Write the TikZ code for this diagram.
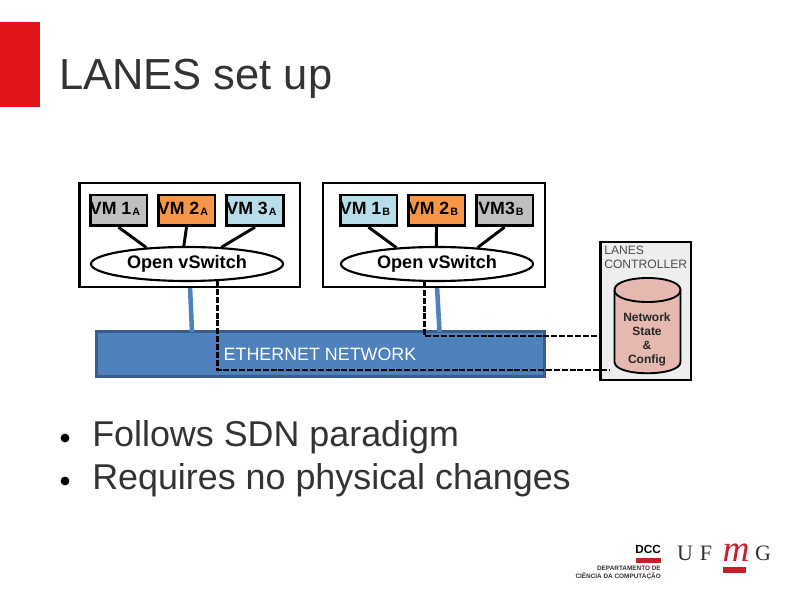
\documentclass[tikz,border=0pt]{standalone}
\usepackage{fontspec}
\setmainfont{Liberation Sans}
\newfontfamily\serifl{Liberation Serif}
\usetikzlibrary{calc,shapes.geometric}
\definecolor{lred}{HTML}{E0161B}
\definecolor{vmgray}{HTML}{BFBFBF}
\definecolor{vmorange}{HTML}{F79646}
\definecolor{vmblue}{HTML}{B7DDE8}
\definecolor{netblue}{HTML}{4F81BD}
\definecolor{netedge}{HTML}{385D8A}
\definecolor{ctlfill}{HTML}{EEEEEE}
\definecolor{dbfill}{HTML}{E6B9B0}
\definecolor{ink}{HTML}{333333}
\definecolor{logored}{HTML}{C8202A}
\newcommand{\vmlab}[2]{\makebox[0pt]{\raisebox{2.9pt}{\fontsize{13.3pt}{15pt}\selectfont\bfseries #1\raisebox{-0.3pt}{\fontsize{8pt}{8pt}\selectfont\kern0.8pt #2}}\hspace{5.2pt}}}
\tikzset{
  hostbox/.style={draw=black,line width=2pt,fill=white,inner sep=0pt,minimum height=78pt},
  vmbox/.style={draw=black,line width=2pt,inner sep=0pt,minimum width=42.5pt,minimum height=23pt},
  ovs/.style={ellipse,draw=black,line width=1.6pt,fill=white,inner sep=0pt,minimum width=144pt,minimum height=25.5pt,font=\fontsize{13.6pt}{15pt}\selectfont\bfseries},
  vmlink/.style={draw=black,line width=2.2pt},
  bluelink/.style={draw=netblue,line width=3.4pt},
  ctl/.style={draw=black,line width=2.2pt,dash pattern=on 4.5pt off 1.4pt},
  dbtxt/.style={font=\fontsize{9pt}{10pt}\selectfont\bfseries,text=black!85,inner sep=0pt},
  ctltxt/.style={font=\fontsize{9.1pt}{10pt}\selectfont,text=black!70,inner sep=0pt,anchor=base west},
  bigtxt/.style={font=\fontsize{26.9pt}{30pt}\selectfont,text=ink,inner sep=0pt,anchor=base west},
  bullet/.style={circle,fill=black,inner sep=0pt,minimum size=6.6pt},
  logosmall/.style={font=\fontsize{4.8pt}{5pt}\selectfont\bfseries,text=black!80,inner sep=0pt,anchor=base east},
  logoserif/.style={font=\serifl\fontsize{16.5pt}{18pt}\selectfont,text=black!80,inner sep=0pt,anchor=base}
}
\begin{document}
\begin{tikzpicture}[x=0.75pt,y=-0.75pt]
\useasboundingbox (0,0) rectangle (794,595);
\fill[white] (0,0) rectangle (794,595);
% title
\node[fill=lred,inner sep=0pt,minimum width=30pt,minimum height=63.75pt] (redbar) at (20,64.5) {};
\node[font=\fontsize{32.6pt}{36pt}\selectfont,text=ink,inner sep=0pt,anchor=base west] (title) at (59,90) {LANES set up};
% network
\node[draw=netedge,line width=2.2pt,fill=netblue,inner sep=0pt,minimum width=336pt,minimum height=34pt] (enet) at (320.5,354) {};
\node[text=white,inner sep=0pt,font=\fontsize{13.4pt}{15pt}\selectfont] (enetlab) at (320,354) {ETHERNET NETWORK};
% blue links
\coordinate (la) at (190,286);
\coordinate (lb) at (437,286);
\draw[bluelink] (la) -- (192,332);
\draw[bluelink] (lb) -- (439.5,332);
% hosts
\node[hostbox,minimum width=165.5pt] (hosta) at (189.5,235) {};
\node[hostbox,minimum width=166.5pt] (hostb) at (434,235) {};
% VMs A
\node[vmbox,fill=vmgray] (a1) at (118.5,210.5) {\vmlab{VM 1}{A}};
\node[vmbox,fill=vmorange] (a2) at (186.5,210.5) {\vmlab{VM 2}{A}};
\node[vmbox,fill=vmblue] (a3) at (255,210.5) {\vmlab{VM 3}{A}};
\node[ovs] (ova) at (187,264) {Open vSwitch};
% VMs B
\node[vmbox,fill=vmblue] (b1) at (368.5,210.5) {\vmlab{VM 1}{B}};
\node[vmbox,fill=vmorange] (b2) at (436.5,210.5) {\vmlab{VM 2}{B}};
\node[vmbox,fill=vmgray] (b3) at (504.5,210.5) {\vmlab{VM3}{B}};
\node[ovs] (ovb) at (437,264) {Open vSwitch};
% VM links
\draw[vmlink] (a1.south) -- (ova.158);
\draw[vmlink] (a2.south) -- (ova.100);
\draw[vmlink] (a3.south) -- (ova.26);
\draw[vmlink] (b1.south) -- (ovb.158);
\draw[vmlink] (b2.south) -- (ovb.92);
\draw[vmlink] (b3.south) -- (ovb.22);
% controller
\node[draw=black,line width=2pt,fill=ctlfill,inner sep=0pt,minimum width=68pt,minimum height=103.5pt] (ctrl) at (645.5,311) {};
\node[ctltxt] (ctl1) at (604,255) {LANES};
\node[ctltxt] (ctl2) at (604,269) {CONTROLLER};
\draw[black,line width=1.4pt,fill=dbfill] (614.5,290) -- (614.5,362)
  .. controls (614.5,377) and (680.5,377) .. (680.5,362) -- (680.5,290)
  .. controls (680.5,274) and (614.5,274) .. (614.5,290) -- cycle;
\draw[black,line width=1.4pt] (614.5,290) .. controls (614.5,306) and (680.5,306) .. (680.5,290);
\node[dbtxt] (db1) at (647,317) {Network};
\node[dbtxt] (db2) at (647,331) {State};
\node[dbtxt] (db3) at (647,345) {\&};
\node[dbtxt] (db4) at (647,360) {Config};
% control links
\coordinate (cta) at (610,370);
\coordinate (ctb) at (600,336);
\draw[ctl] (ova.-29) |- (cta);
\draw[ctl] (ovb.-125) |- (ctb);
% bullets
\node[bullet] (b1d) at (65,438) {};
\node[bullet] (b2d) at (65,481) {};
\node[bigtxt] (t1) at (92,447) {Follows SDN paradigm};
\node[bigtxt] (t2) at (92,490) {Requires no physical changes};
% logo
\node[font=\fontsize{8.8pt}{10pt}\selectfont\bfseries,text=black,inner sep=0pt,anchor=base east] (dcc) at (661,554) {DCC};
\node[fill=logored,inner sep=0pt,minimum width=18.6pt,minimum height=3.8pt] (dccbar) at (648.5,560.5) {};
\node[logosmall] (dep1) at (661,571) {DEPARTAMENTO DE};
\node[logosmall] (dep2) at (661,579) {CIÊNCIA DA COMPUTAÇÃO};
\node[logoserif] (lu) at (685,561) {U};
\node[logoserif] (lf) at (706,561) {F};
\node[font=\serifl\itshape\fontsize{28pt}{30pt}\selectfont,text=logored,inner sep=0pt,anchor=base] (lm) at (736,562) {m};
\node[logoserif] (lg) at (763,561) {G};
\node[fill=logored,inner sep=0pt,minimum width=17.5pt,minimum height=4.5pt] (ufbar) at (734.5,570) {};
\end{tikzpicture}
\end{document}
